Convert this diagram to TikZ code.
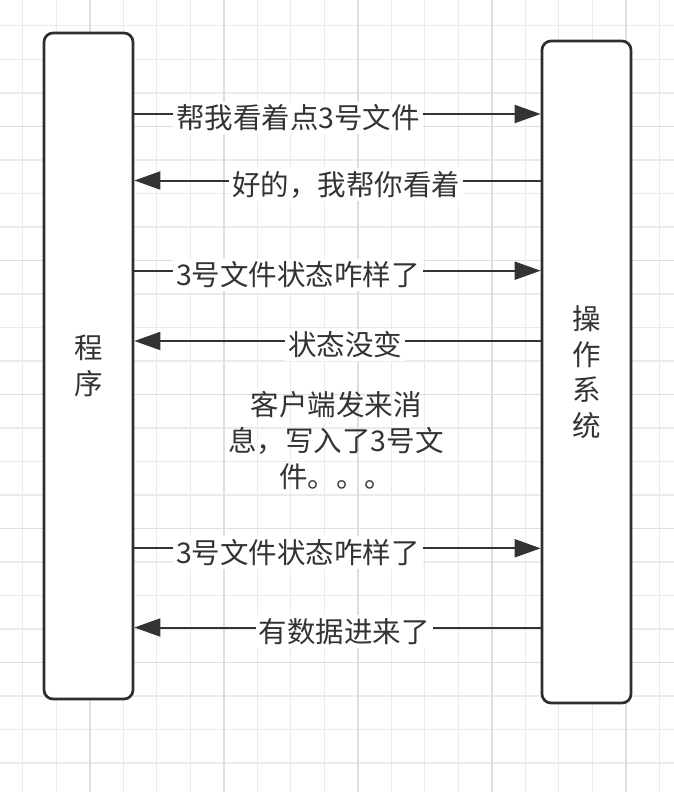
\documentclass[tikz,border=0pt]{standalone}
\usepackage{fontspec}
\setmainfont{Noto Sans CJK SC}
\usetikzlibrary{arrows.meta}
\definecolor{gridminor}{HTML}{EBEBEB}
\definecolor{gridmajor}{HTML}{DEDEDE}
\definecolor{ink}{HTML}{333333}
\definecolor{boxline}{HTML}{2B2F33}
\tikzset{
  lane/.style={draw=boxline, line width=2.7pt, rounded corners=9pt, fill=white,
    minimum width=89pt, inner sep=0pt, align=center, text=ink,
    font=\fontsize{28.5}{35.6}\selectfont},
  msg/.style={draw=ink, line width=2pt, -{Triangle[length=26pt,width=18pt]}},
  lbl/.style={fill=white, inner sep=3pt, text=ink, font=\fontsize{28.5}{34}\selectfont},
  note/.style={inner sep=0pt, text=ink, align=center, font=\fontsize{28.5}{36}\selectfont},
}
\begin{document}
\begin{tikzpicture}[x=1pt,y=-1pt]
\useasboundingbox (0,0) rectangle (674,792);
\fill[white] (0,0) rectangle (674,792);
% grid
\foreach \i in {0,...,19} \draw[gridminor, line width=1.4pt] ({22.7+33.5*\i},0) -- ({22.7+33.5*\i},792);
\foreach \j in {0,...,22} \draw[gridminor, line width=1.4pt] (0,{25.8+33.5*\j}) -- (674,{25.8+33.5*\j});
\foreach \i in {0,...,4} \draw[gridmajor, line width=1.6pt] ({89.7+134*\i},0) -- ({89.7+134*\i},792);
\foreach \j in {0,...,4} \draw[gridmajor, line width=1.6pt] (0,{126.3+134*\j}) -- (674,{126.3+134*\j});
% lanes
\node[lane, minimum height=666pt] (L) at (88.5,366) {程\\序};
\node[lane, minimum height=662pt] (R) at (586.5,372) {操\\作\\系\\统};
% message rows
\coordinate (y1) at (0,114);
\coordinate (y2) at (0,180.5);
\coordinate (y3) at (0,270.7);
\coordinate (y4) at (0,341);
\coordinate (y5) at (0,548.3);
\coordinate (y6) at (0,627.5);
\draw[msg] (L.east |- y1) -- (R.west |- y1);
\draw[msg] (R.west |- y2) -- (L.east |- y2);
\draw[msg] (L.east |- y3) -- (R.west |- y3);
\draw[msg] (R.west |- y4) -- (L.east |- y4);
\draw[msg] (L.east |- y5) -- (R.west |- y5);
\draw[msg] (R.west |- y6) -- (L.east |- y6);
\node[lbl] (m1) at (298,118) {帮我看着点3号文件};
\node[lbl] (m2) at (346,184.5) {好的，我帮你看着};
\node[lbl] (m3) at (298,275) {3号文件状态咋样了};
\node[lbl] (m4) at (345,345) {状态没变};
\node[lbl] (m5) at (298,552.3) {3号文件状态咋样了};
\node[lbl] (m6) at (344,631.5) {有数据进来了};
\node[note] (n1) at (336,441) {客户端发来消\\息，写入了3号文\\件。。。};
\end{tikzpicture}
\end{document}
